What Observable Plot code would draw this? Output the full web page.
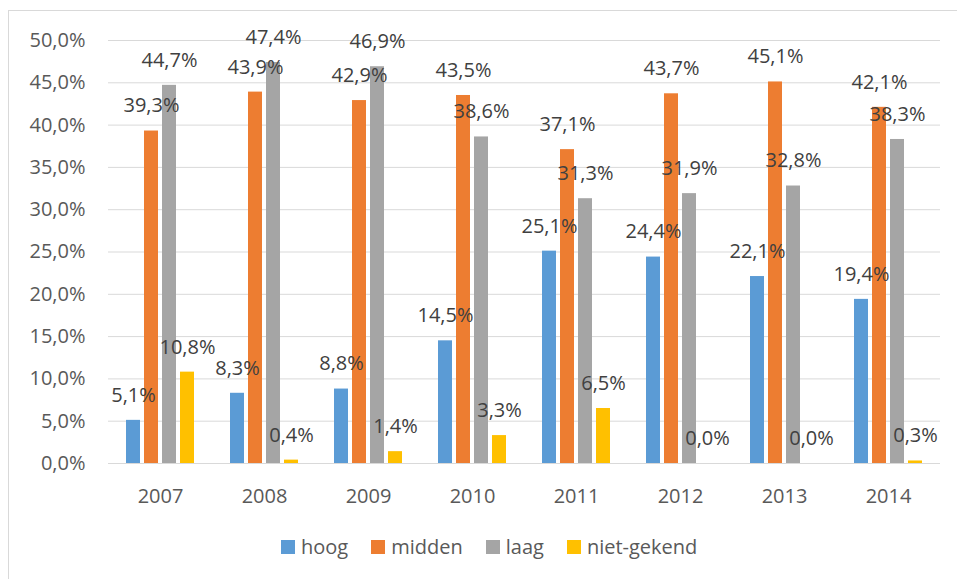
<!DOCTYPE html>
<html>
<head>
<meta charset="utf-8">
<script src="https://cdn.jsdelivr.net/npm/d3@7"></script>
<script src="https://cdn.jsdelivr.net/npm/@observablehq/plot@0.6"></script>
<style>
  html, body { margin: 0; padding: 0; background: #fff; }
  #wrap { position: relative; width: 957px; height: 579px; overflow: hidden; font-family: "Open Sans", sans-serif; }
  #frame { position: absolute; left: 8px; top: 10px; width: 1000px; height: 1000px; border: 1px solid #d9d9d9; box-sizing: border-box; }
  .layer { position: absolute; left: 0; top: 0; }
  #legend { position: absolute; left: 281px; top: 533px; display: flex; align-items: center; font-size: 20px; color: #595959; white-space: nowrap; }
  #legend .item { display: flex; align-items: center; margin-right: 23px; }
  #legend .sw { width: 14px; height: 14px; margin-right: 6px; }
</style>
</head>
<body>
<div id="wrap">
  <div id="frame"></div>
  <div id="bg" class="layer"></div>
  <div id="fg" class="layer"></div>
  <div id="legend"></div>
</div>
<script>
const years = ["2007", "2008", "2009", "2010", "2011", "2012", "2013", "2014"];
const series = ["hoog", "midden", "laag", "niet-gekend"];
const colors = ["#5B9BD5", "#ED7D31", "#A5A5A5", "#FFC000"];
const hoog = [5.1, 8.3, 8.8, 14.5, 25.1, 24.4, 22.1, 19.4];
const midden = [39.3, 43.9, 42.9, 43.5, 37.1, 43.7, 45.1, 42.1];
const laag = [44.7, 47.4, 46.9, 38.6, 31.3, 31.9, 32.8, 38.3];
const nietGekend = [10.8, 0.4, 1.4, 3.3, 6.5, 0.0, 0.0, 0.3];
const yTicks = [0, 5, 10, 15, 20, 25, 30, 35, 40, 45, 50];

const valuesBySeries = [hoog, midden, laag, nietGekend];
const data = [];
years.forEach((yr, i) => {
  series.forEach((s, j) => data.push({year: yr, series: s, value: valuesBySeries[j][i]}));
});

const fmt = v => v.toFixed(1).replace(".", ",") + "%";

const W = 957, H = 520;
const margins = {marginLeft: 108, marginRight: 17, marginTop: 40, marginBottom: 57};

const bg = Plot.plot({
  width: W, height: H, ...margins,
  style: {background: "transparent", fontFamily: "Open Sans, sans-serif"},
  y: {domain: [0, 50], axis: null},
  marks: [
    Plot.ruleY(yTicks, {stroke: "#d9d9d9", strokeWidth: 1}),
    Plot.axisY(yTicks, {tickSize: 0, tickPadding: 23, tickFormat: fmt, fontSize: 20, fill: "#595959"})
  ]
});
document.getElementById("bg").appendChild(bg);

const fg = Plot.plot({
  width: W, height: H, ...margins,
  style: {background: "transparent", fontFamily: "Open Sans, sans-serif", overflow: "visible"},
  fx: {domain: years, paddingInner: 0.31, paddingOuter: 0.155, label: null, axis: null},
  x: {domain: series, paddingInner: 0.2, paddingOuter: 0, axis: null},
  y: {domain: [0, 50], axis: null},
  color: {domain: series, range: colors},
  marks: [
    Plot.barY(data, {fx: "year", x: "series", y: "value", fill: "series", insetLeft: 0, insetRight: 0}),
    Plot.text(data, {fx: "year", x: "series", y: "value", text: d => fmt(d.value), dy: -25, lineAnchor: "middle", fontSize: 20, fill: "#404040"}),
    Plot.axisFx({tickSize: 0, tickPadding: 25, fontSize: 20, fill: "#595959", label: null, anchor: "bottom"})
  ]
});
document.getElementById("fg").appendChild(fg);

const legend = document.getElementById("legend");
series.forEach((s, j) => {
  const item = document.createElement("div");
  item.className = "item";
  const sw = document.createElement("div");
  sw.className = "sw";
  sw.style.background = colors[j];
  const t = document.createElement("span");
  t.textContent = s;
  item.appendChild(sw);
  item.appendChild(t);
  legend.appendChild(item);
});
</script>
</body>
</html>
